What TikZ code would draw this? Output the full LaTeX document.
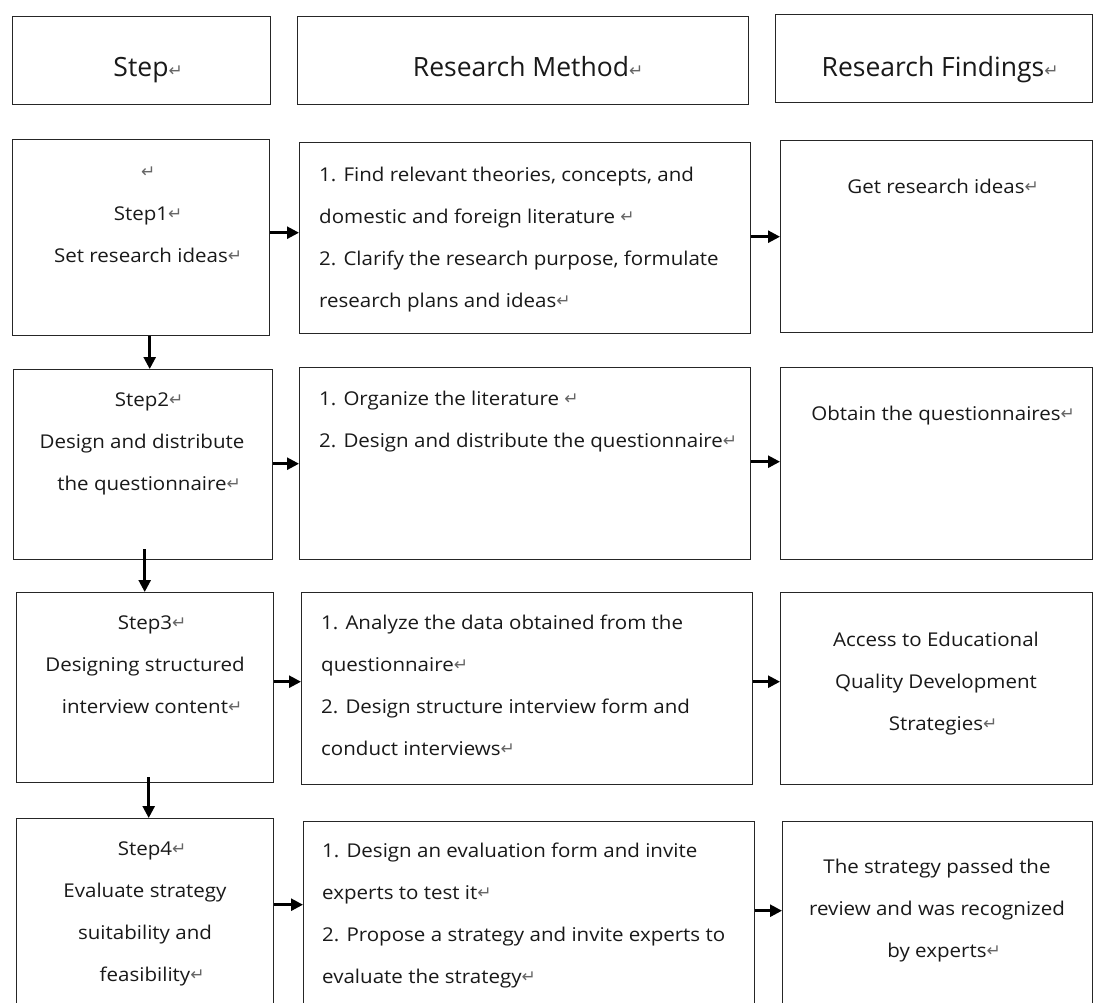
\documentclass[tikz,border=0pt]{standalone}
\usepackage{fontspec}
\setmainfont{Open Sans}
\newfontfamily\bodyfont{Open Sans}[FakeStretch=1.08]
\newfontfamily\markfont{DejaVu Sans}
\usetikzlibrary{arrows.meta}
\newcommand\pmark{\rlap{\markfont\fontsize{17}{17}\selectfont\textcolor{black!60}{\raisebox{0.5pt}{↵}}}}
\newcommand\fs{\rule{0pt}{16pt}}
\begin{document}
\begin{tikzpicture}[x=1pt,y=-1pt,
  box/.style={draw=black!85, line width=1.4pt, inner sep=0pt, anchor=north west, rectangle},
  flow/.style={draw=black, line width=2.6pt, -{Triangle[length=12pt,width=12pt]}},
  hd/.style={font=\fontsize{26.5}{30}\selectfont, anchor=base, inner sep=0pt, text=black!90},
  ctext/.style={font=\bodyfont\fontsize{19}{42}\selectfont, align=center, anchor=north, inner sep=0pt, text=black!90},
  ltext/.style={font=\bodyfont\fontsize{19}{42}\selectfont, align=left, anchor=north west, inner sep=0pt, text=black!90},
]
\clip (0,0) rectangle (1094,1003);
% header boxes
\node[box, minimum width=258pt, minimum height=88pt] (h1) at (12,16) {};
\node[box, minimum width=451pt, minimum height=88pt] (h2) at (297,16) {};
\node[box, minimum width=317pt, minimum height=88pt] (h3) at (775,14) {};
\node[hd] (h1t) at (141,77) {Step\pmark};
\node[hd] (h2t) at (521,77) {Research Method\pmark};
\node[hd] (h3t) at (933,77) {Research Findings\pmark};
% row 1
\node[box, minimum width=257pt, minimum height=196pt] (s1) at (12,139) {};
\node[box, minimum width=451pt, minimum height=191pt] (m1) at (299,142) {};
\node[box, minimum width=312pt, minimum height=192pt] (f1) at (780,140) {};
% row 2
\node[box, minimum width=259pt, minimum height=190pt] (s2) at (13,369) {};
\node[box, minimum width=451pt, minimum height=192pt] (m2) at (299,367) {};
\node[box, minimum width=312pt, minimum height=192pt] (f2) at (780,367) {};
% row 3
\node[box, minimum width=257pt, minimum height=190pt] (s3) at (16,592) {};
\node[box, minimum width=451pt, minimum height=192pt] (m3) at (301,592) {};
\node[box, minimum width=312pt, minimum height=192pt] (f3) at (780,592) {};
% row 4
\node[box, minimum width=257pt, minimum height=192pt] (s4) at (16,818) {};
\node[box, minimum width=451pt, minimum height=189pt] (m4) at (303,821) {};
\node[box, minimum width=310pt, minimum height=189pt] (f4) at (782,821) {};
% texts (node top = first baseline - 16)
\node[ctext] (t1) at (141,162) {\fs\pmark\\Step1\pmark\\Set research ideas\pmark};
\node[ltext] (tm1) at (319,165) {\fs1. Find relevant theories, concepts, and\\domestic and foreign literature \pmark\\2. Clarify the research purpose, formulate\\research plans and ideas\pmark};
\node[ctext] (tf1) at (936,177) {\fs Get research ideas\pmark};
\node[ctext] (t2) at (142,390) {\fs Step2\pmark\\Design and distribute\\the questionnaire\pmark};
\node[ltext] (tm2) at (319,389) {\fs1. Organize the literature \pmark\\2. Design and distribute the questionnaire\pmark};
\node[ctext] (tf2) at (936,404) {\fs Obtain the questionnaires\pmark};
\node[ctext] (t3) at (145,613) {\fs Step3\pmark\\Designing structured\\interview content\pmark};
\node[ltext] (tm3) at (321,613) {\fs1. Analyze the data obtained from the\\questionnaire\pmark\\2. Design structure interview form and\\conduct interviews\pmark};
\node[ctext] (tf3) at (936,630) {\fs Access to Educational\\Quality Development\\Strategies\pmark};
\node[ctext] (t4) at (145,839) {\fs Step4\pmark\\Evaluate strategy\\suitability and\\feasibility\pmark};
\node[ltext] (tm4) at (322,841) {\fs1. Design an evaluation form and invite\\experts to test it\pmark\\2. Propose a strategy and invite experts to\\evaluate the strategy\pmark};
\node[ctext] (tf4) at (937,857) {\fs The strategy passed the\\review and was recognized\\by experts\pmark};
% horizontal arrows
\draw[flow] ([yshift=5pt]s1.east) -- ([yshift=5pt]s1.east -| m1.west);
\draw[flow] ([yshift=1.5pt]m1.east) -- ([yshift=1.5pt]m1.east -| f1.west);
\draw[flow] ([yshift=1pt]s2.east) -- ([yshift=1pt]s2.east -| m2.west);
\draw[flow] ([yshift=2pt]m2.east) -- ([yshift=2pt]m2.east -| f2.west);
\draw[flow] ([yshift=6pt]s3.east) -- ([yshift=6pt]s3.east -| m3.west);
\draw[flow] ([yshift=7pt]m3.east) -- ([yshift=7pt]m3.east -| f3.west);
\draw[flow] ([yshift=10pt]s4.east) -- ([yshift=10pt]s4.east -| m4.west);
\draw[flow] ([yshift=5.5pt]m4.east) -- ([yshift=5.5pt]m4.east -| f4.west);
% vertical arrows
\draw[flow] ([xshift=8.5pt]s1.south) -- ([xshift=8.5pt]s1.south |- s2.north);
\draw[flow] ([xshift=1.5pt,yshift=11pt]s2.south) -- ([xshift=1.5pt]s2.south |- s3.north);
\draw[flow] ([xshift=3.5pt,yshift=6pt]s3.south) -- ([xshift=3.5pt]s3.south |- s4.north);
\end{tikzpicture}
\end{document}
